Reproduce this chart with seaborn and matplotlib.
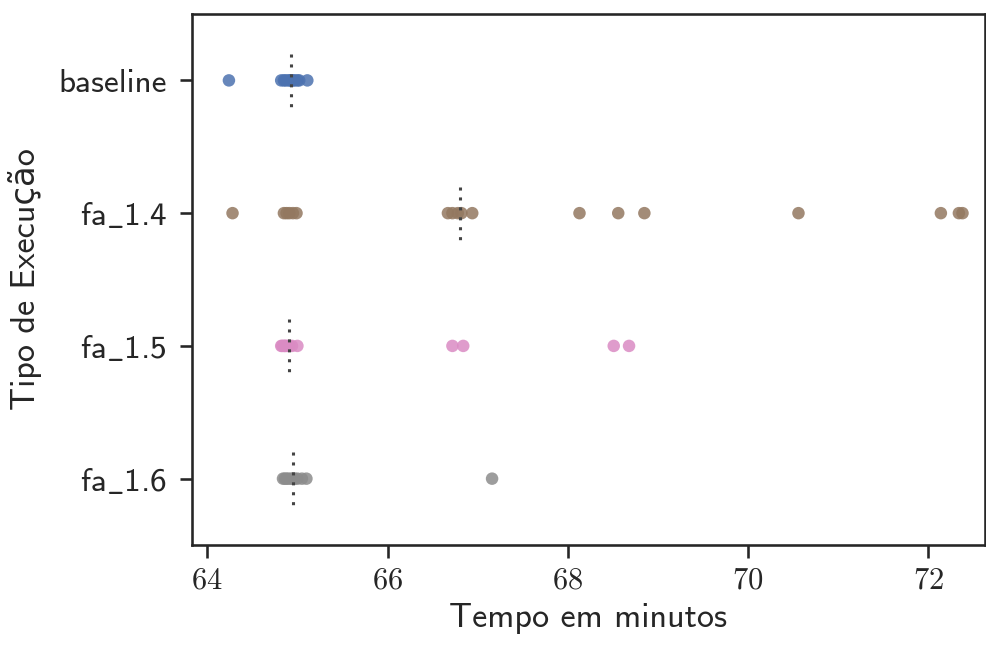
import numpy as np
import pandas as pd
import seaborn as sns
import matplotlib.pyplot as plt
from matplotlib.ticker import FuncFormatter

categories = ["baseline", "fa_1.4", "fa_1.5", "fa_1.6"]
baseline = [64.24, 64.82, 64.85, 64.87, 64.90, 64.92, 64.93, 64.95, 64.97, 65.00, 65.02, 65.11]
fa_14 = [64.28, 64.85, 64.88, 64.91, 64.95, 64.99, 66.67, 66.72, 66.78, 66.82, 66.94,
         68.13, 68.56, 68.85, 70.56, 72.14, 72.34, 72.38]
fa_15 = [64.82, 64.83, 64.85, 64.86, 64.87, 64.89, 64.91, 64.94, 65.00,
         66.72, 66.84, 68.51, 68.68]
fa_16 = [64.84, 64.86, 64.88, 64.90, 64.93, 64.95, 64.97, 65.00, 65.05, 65.10, 67.16]
xticks = [64, 66, 68, 70, 72]

series = [baseline, fa_14, fa_15, fa_16]
df = pd.DataFrame({
    "tipo": np.repeat(categories, [len(s) for s in series]),
    "tempo": np.concatenate(series),
})

sns.set_theme(style="ticks", context="talk")
plt.rcParams["font.family"] = ["cmss10", "DejaVu Sans"]
plt.rcParams["mathtext.fontset"] = "cm"
plt.rcParams["axes.formatter.use_mathtext"] = True

deep = sns.color_palette("deep")
palette = [deep[0], deep[5], deep[6], deep[7]]

fig = plt.figure(figsize=(9.87, 6.46), dpi=100)
ax = fig.add_axes([0.1945, 0.1563, 0.8035, 0.822])

sns.stripplot(data=df, x="tempo", y="tipo", hue="tipo", order=categories,
              palette=palette, jitter=False, size=9, alpha=0.85,
              linewidth=0, legend=False, ax=ax, zorder=2)
sns.boxplot(data=df, x="tempo", y="tipo", order=categories, width=0.4,
            showbox=False, showcaps=False, showfliers=False,
            whiskerprops={"visible": False},
            medianprops={"color": "#444444", "linestyle": (0, (1, 2.25)), "linewidth": 2.2},
            ax=ax, zorder=3)

for side in ["top", "right", "left", "bottom"]:
    ax.spines[side].set_visible(True)
ax.set_xlim(63.83, 72.63)
ax.set_ylim(3.5, -0.5)
ax.set_xticks(xticks)
ax.xaxis.set_major_formatter(FuncFormatter(lambda v, p: f"${v:g}$"))
ax.set_yticks(range(len(categories)))
ax.set_yticklabels([c.replace("_", r"$\_$") for c in categories])
ax.tick_params(axis="x", labelsize=22, pad=7)
ax.tick_params(axis="y", labelsize=24, pad=9)
ax.set_xlabel("Tempo em minutos", fontsize=24.5, labelpad=6)
ax.set_ylabel("Tipo de Execução", fontsize=24.5, labelpad=12)

fig.savefig("out.png", dpi=100)
